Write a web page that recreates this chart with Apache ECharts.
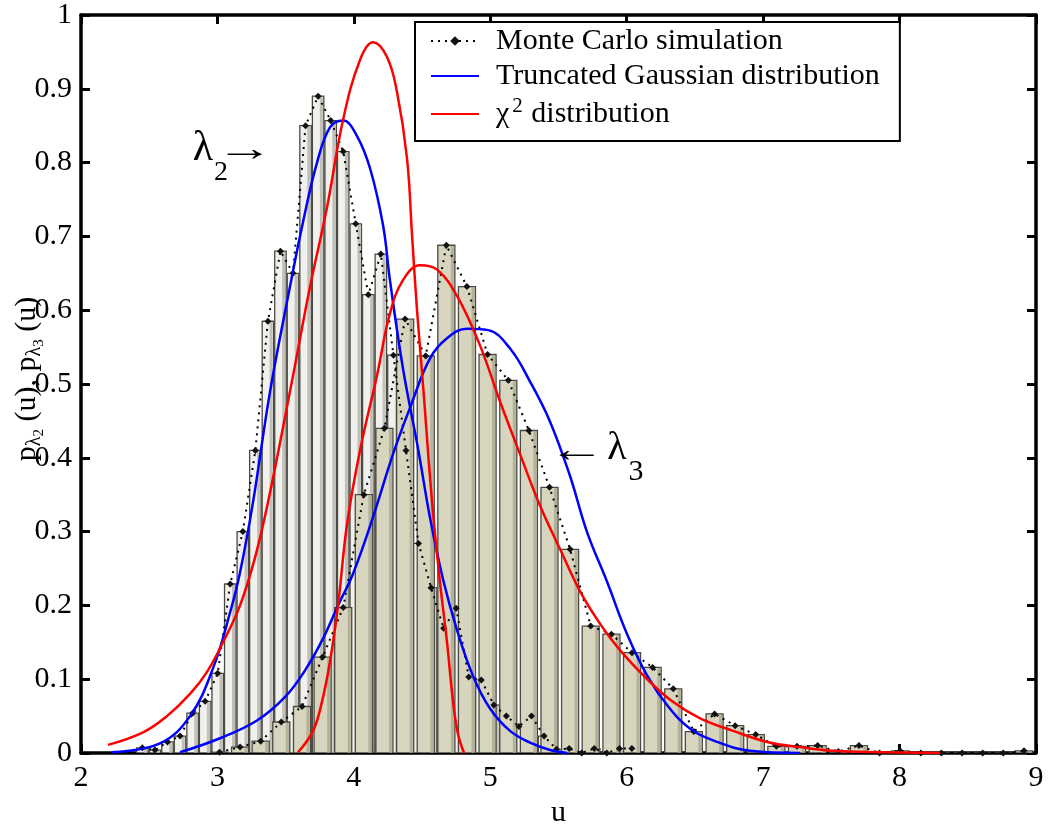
<!DOCTYPE html>
<html><head><meta charset="utf-8">
<script src="https://cdn.jsdelivr.net/npm/echarts/dist/echarts.min.js"></script>
<style>html,body{margin:0;padding:0;background:#fff}#chart{width:1048px;height:834px}</style>
</head><body><div id="chart"></div>
<script>
// ---------- data ----------
const xTickLabels = ['2','3','4','5','6','7','8','9'];
const yTickLabels = ['0','0.1','0.2','0.3','0.4','0.5','0.6','0.7','0.8','0.9','1'];

// lambda_2 histogram (Monte Carlo), bin centres and heights
const lambda2Centers = [2.450,2.542,2.634,2.726,2.818,2.910,3.002,3.094,3.186,3.278,3.370,3.462,3.554,3.646,3.738,3.830,3.922,4.014,4.106,4.198,4.290,4.382,4.474,4.566,4.658,4.750,4.842,4.934,5.026,5.118,5.210,5.302,5.394,5.486,5.578,5.670,5.762,5.854,5.946,6.038];
const lambda2Heights = [0.007,0.004,0.015,0.023,0.054,0.070,0.108,0.229,0.300,0.410,0.585,0.680,0.650,0.850,0.890,0.857,0.815,0.717,0.621,0.676,0.539,0.410,0.284,0.224,0.169,0.196,0.103,0.099,0.065,0.050,0.036,0.050,0.023,0.005,0.006,0.000,0.006,0.000,0.006,0.006];

// lambda_3 histogram (Monte Carlo)
const lambda3Centers = [3.015,3.166,3.317,3.468,3.620,3.771,3.922,4.073,4.224,4.376,4.527,4.678,4.829,4.980,5.132,5.283,5.434,5.585,5.736,5.888,6.039,6.190,6.341,6.492,6.644,6.795,6.946,7.097,7.248,7.400,7.551,7.702,7.853,8.004,8.156,8.307,8.458,8.609,8.760,8.912];
const lambda3Heights = [0.001,0.008,0.016,0.042,0.063,0.130,0.197,0.350,0.440,0.588,0.538,0.688,0.632,0.540,0.505,0.437,0.360,0.276,0.172,0.161,0.136,0.116,0.087,0.029,0.053,0.037,0.025,0.009,0.009,0.010,0.002,0.010,0.000,0.003,0.000,0.000,0.000,0.000,0.000,0.003];

// Truncated Gaussian, lambda_2
const gauss2U = [2.227,2.579,2.799,2.968,3.092,3.166,3.261,3.386,3.532,3.628,3.730,3.826,3.921,4.023,4.119,4.214,4.265,4.361,4.471,4.559,4.654,4.757,4.874,4.999,5.145,5.292,5.438,5.563];
const gauss2P = [0.001,0.013,0.050,0.115,0.190,0.245,0.340,0.490,0.632,0.720,0.800,0.848,0.857,0.836,0.792,0.715,0.640,0.520,0.412,0.318,0.235,0.166,0.104,0.060,0.030,0.014,0.004,0.000];

// Truncated Gaussian, lambda_3
const gauss3U = [2.726,3.019,3.290,3.496,3.642,3.774,3.884,3.994,4.141,4.287,4.412,4.559,4.683,4.830,4.984,5.145,5.292,5.438,5.585,5.710,5.856,6.003,6.150,6.304,6.465,6.663,6.905,7.271];
const gauss3P = [0.001,0.020,0.044,0.076,0.112,0.155,0.200,0.243,0.320,0.405,0.468,0.535,0.562,0.575,0.573,0.548,0.503,0.449,0.375,0.299,0.232,0.161,0.105,0.063,0.033,0.015,0.003,0.000];

// chi^2, lambda_2
const chi2U = [2.198,2.455,2.630,2.799,2.924,3.041,3.166,3.276,3.371,3.532,3.679,3.804,3.921,4.045,4.141,4.243,4.317,4.390,4.427,4.463,4.515,4.551,4.588,4.632,4.683,4.727,4.764,4.808];
const chi2P = [0.011,0.028,0.050,0.080,0.110,0.150,0.200,0.265,0.340,0.490,0.632,0.740,0.858,0.939,0.963,0.943,0.895,0.805,0.700,0.600,0.480,0.390,0.310,0.230,0.150,0.070,0.025,0.000];

// chi^2, lambda_3
const chi3U = [3.591,3.701,3.767,3.826,3.884,3.950,4.045,4.170,4.265,4.361,4.485,4.610,4.757,4.925,5.072,5.218,5.365,5.512,5.658,5.805,5.952,6.150,6.333,6.538,6.780,7.029,7.271,7.513,7.880,8.298];
const chi3P = [0.001,0.030,0.070,0.125,0.200,0.310,0.410,0.512,0.596,0.641,0.661,0.655,0.619,0.552,0.476,0.405,0.335,0.276,0.219,0.175,0.139,0.100,0.070,0.047,0.030,0.015,0.008,0.003,0.001,0.000];

// ---------- chart ----------
const SERIF = '"Liberation Serif","Times New Roman",serif';
const NAME_MC = 'Monte Carlo simulation';
const NAME_TG = 'Truncated Gaussian distribution';
const NAME_CHI = 'χ2 distribution';
const BAR_W2 = 0.084, BAR_W3 = 0.125;

const zip = (a, b) => a.map((v, i) => [v, b[i]]);

function barRender(width, fill, shade) {
  return function (params, api) {
    const c = api.value(0), h = api.value(1);
    const p0 = api.coord([c - width / 2, h]);
    const p1 = api.coord([c + width / 2, 0]);
    const w = p1[0] - p0[0], ht = p1[1] - p0[1];
    return {
      type: 'group',
      children: [
        { type: 'rect', shape: { x: p0[0], y: p0[1], width: w, height: ht },
          style: { fill: fill, stroke: '#4a4a42', lineWidth: 1.3 } },
        { type: 'rect', shape: { x: p0[0] + w - 4, y: p0[1] + 1, width: 3, height: Math.max(ht - 1, 0) },
          style: { fill: shade, opacity: 0.8 } }
      ]
    };
  };
}

const chart = echarts.init(document.getElementById('chart'), null, { renderer: 'canvas' });

const axisLineStyle = { color: '#000', width: 3.5 };
const curve = (name, u, p, color) => ({
  type: 'line', name: name, data: zip(u, p), z: 4, smooth: 0.4,
  symbol: 'none', lineStyle: { color: color, width: 2.5 }, itemStyle: { color: color }
});
const txt = (x, y, text, size, extra) => Object.assign({
  type: 'text', x: x, y: y, z: 100,
  style: { text: text, fontSize: size, fontFamily: SERIF, fill: '#000',
    align: 'center', verticalAlign: 'middle', textAlign: 'center', textVerticalAlign: 'middle' }
}, extra || {});

const option = {
  backgroundColor: '#fff',
  animation: false,
  grid: { left: 81, right: 12, top: 3, bottom: 81 },
  xAxis: [
    { type: 'value', min: 2, max: 9, interval: 1, position: 'bottom',
      axisLine: { onZero: false, lineStyle: axisLineStyle },
      axisTick: { inside: true, length: 9, lineStyle: { color: '#000', width: 3 } },
      splitLine: { show: false },
      axisLabel: { margin: 10, color: '#000', fontSize: 30, fontFamily: SERIF,
        formatter: v => xTickLabels[Math.round(v - 2)] },
      name: 'u', nameLocation: 'middle', nameGap: 40,
      nameTextStyle: { color: '#000', fontSize: 30, fontFamily: SERIF } },
    { type: 'value', min: 2, max: 9, interval: 1, position: 'top',
      axisLine: { onZero: false, lineStyle: axisLineStyle },
      axisTick: { inside: true, length: 9, lineStyle: { color: '#000', width: 3 } },
      axisLabel: { show: false }, splitLine: { show: false } }
  ],
  yAxis: [
    { type: 'value', min: 0, max: 1, interval: 0.1, position: 'left',
      axisLine: { show: true, onZero: false, lineStyle: axisLineStyle },
      axisTick: { show: true, inside: true, length: 9, lineStyle: { color: '#000', width: 3 } },
      splitLine: { show: false },
      axisLabel: { margin: 9, color: '#000', fontSize: 30, fontFamily: SERIF,
        formatter: v => yTickLabels[Math.round(v * 10)] } },
    { type: 'value', min: 0, max: 1, interval: 0.1, position: 'right',
      axisLine: { show: true, onZero: false, lineStyle: axisLineStyle },
      axisTick: { show: true, inside: true, length: 9, lineStyle: { color: '#000', width: 3 } },
      axisLabel: { show: false }, splitLine: { show: false } }
  ],
  legend: {
    data: [
      { name: NAME_MC },
      { name: NAME_TG, itemStyle: { opacity: 0 } },
      { name: NAME_CHI, itemStyle: { opacity: 0 } }
    ],
    orient: 'vertical', left: 415, top: 22,
    padding: [4, 20, 12, 15], itemGap: 5, itemWidth: 48, itemHeight: 12,
    borderColor: '#000', borderWidth: 2, backgroundColor: '#fff',
    selectedMode: false,
    textStyle: { color: '#000', fontSize: 30, fontFamily: SERIF, padding: [0, 0, 0, 12],
      rich: {
        c: { color: '#000', fontSize: 30, fontFamily: SERIF },
        sup: { color: '#000', fontSize: 21, fontFamily: SERIF, padding: [0, 1, 15, 3] }
      } },
    formatter: name => name === NAME_CHI ? '{c|χ}{sup|2}{c| distribution}' : name
  },
  series: [
    { type: 'custom', name: 'hist2', renderItem: barRender(BAR_W2, '#f0f0ec', '#b4b4ac'),
      data: zip(lambda2Centers, lambda2Heights), z: 1, encode: { x: 0, y: 1 }, clip: true },
    { type: 'custom', name: 'hist3', renderItem: barRender(BAR_W3, '#d7d5be', '#a9a790'),
      data: zip(lambda3Centers, lambda3Heights), z: 2, encode: { x: 0, y: 1 }, clip: true },
    { type: 'line', name: NAME_MC, data: zip(lambda2Centers, lambda2Heights), z: 3,
      symbol: 'diamond', symbolSize: 7, itemStyle: { color: '#111' },
      lineStyle: { color: '#000', width: 2, type: [2, 5] } },
    { type: 'line', name: NAME_MC, data: zip(lambda3Centers, lambda3Heights), z: 3,
      symbol: 'diamond', symbolSize: 7, itemStyle: { color: '#111' },
      lineStyle: { color: '#000', width: 2, type: [2, 5] } },
    curve(NAME_TG, gauss2U, gauss2P, '#0000ff'),
    curve(NAME_TG, gauss3U, gauss3P, '#0000ff'),
    curve(NAME_CHI, chi2U, chi2P, '#ff0000'),
    curve(NAME_CHI, chi3U, chi3P, '#ff0000')
  ],
  graphic: [
    { type: 'text', x: 27, y: 379, rotation: Math.PI / 2, z: 100,
      style: {
        text: '{m|p}{s|λ}{t|2}{m| (u), p}{s|λ}{t|3}{m| (u)}',
        align: 'center', verticalAlign: 'middle', textAlign: 'center', textVerticalAlign: 'middle',
        fill: '#000',
        rich: {
          m: { fontSize: 30, fontFamily: SERIF, fill: '#000', color: '#000' },
          s: { fontSize: 20, fontFamily: SERIF, fill: '#000', color: '#000', padding: [16, 0, 0, 0] },
          t: { fontSize: 15, fontFamily: SERIF, fill: '#000', color: '#000', padding: [24, 0, 0, 0] }
        }
      } },
    txt(203, 149, 'λ', 42),
    txt(221, 173, '2', 28),
    txt(245, 151, '→', 36, { scaleX: 1.6 }),
    txt(577, 452, '←', 36, { scaleX: 1.6 }),
    txt(617, 448, 'λ', 40),
    txt(636, 472, '3', 30)
  ]
};
chart.setOption(option);
</script>
</body></html>
